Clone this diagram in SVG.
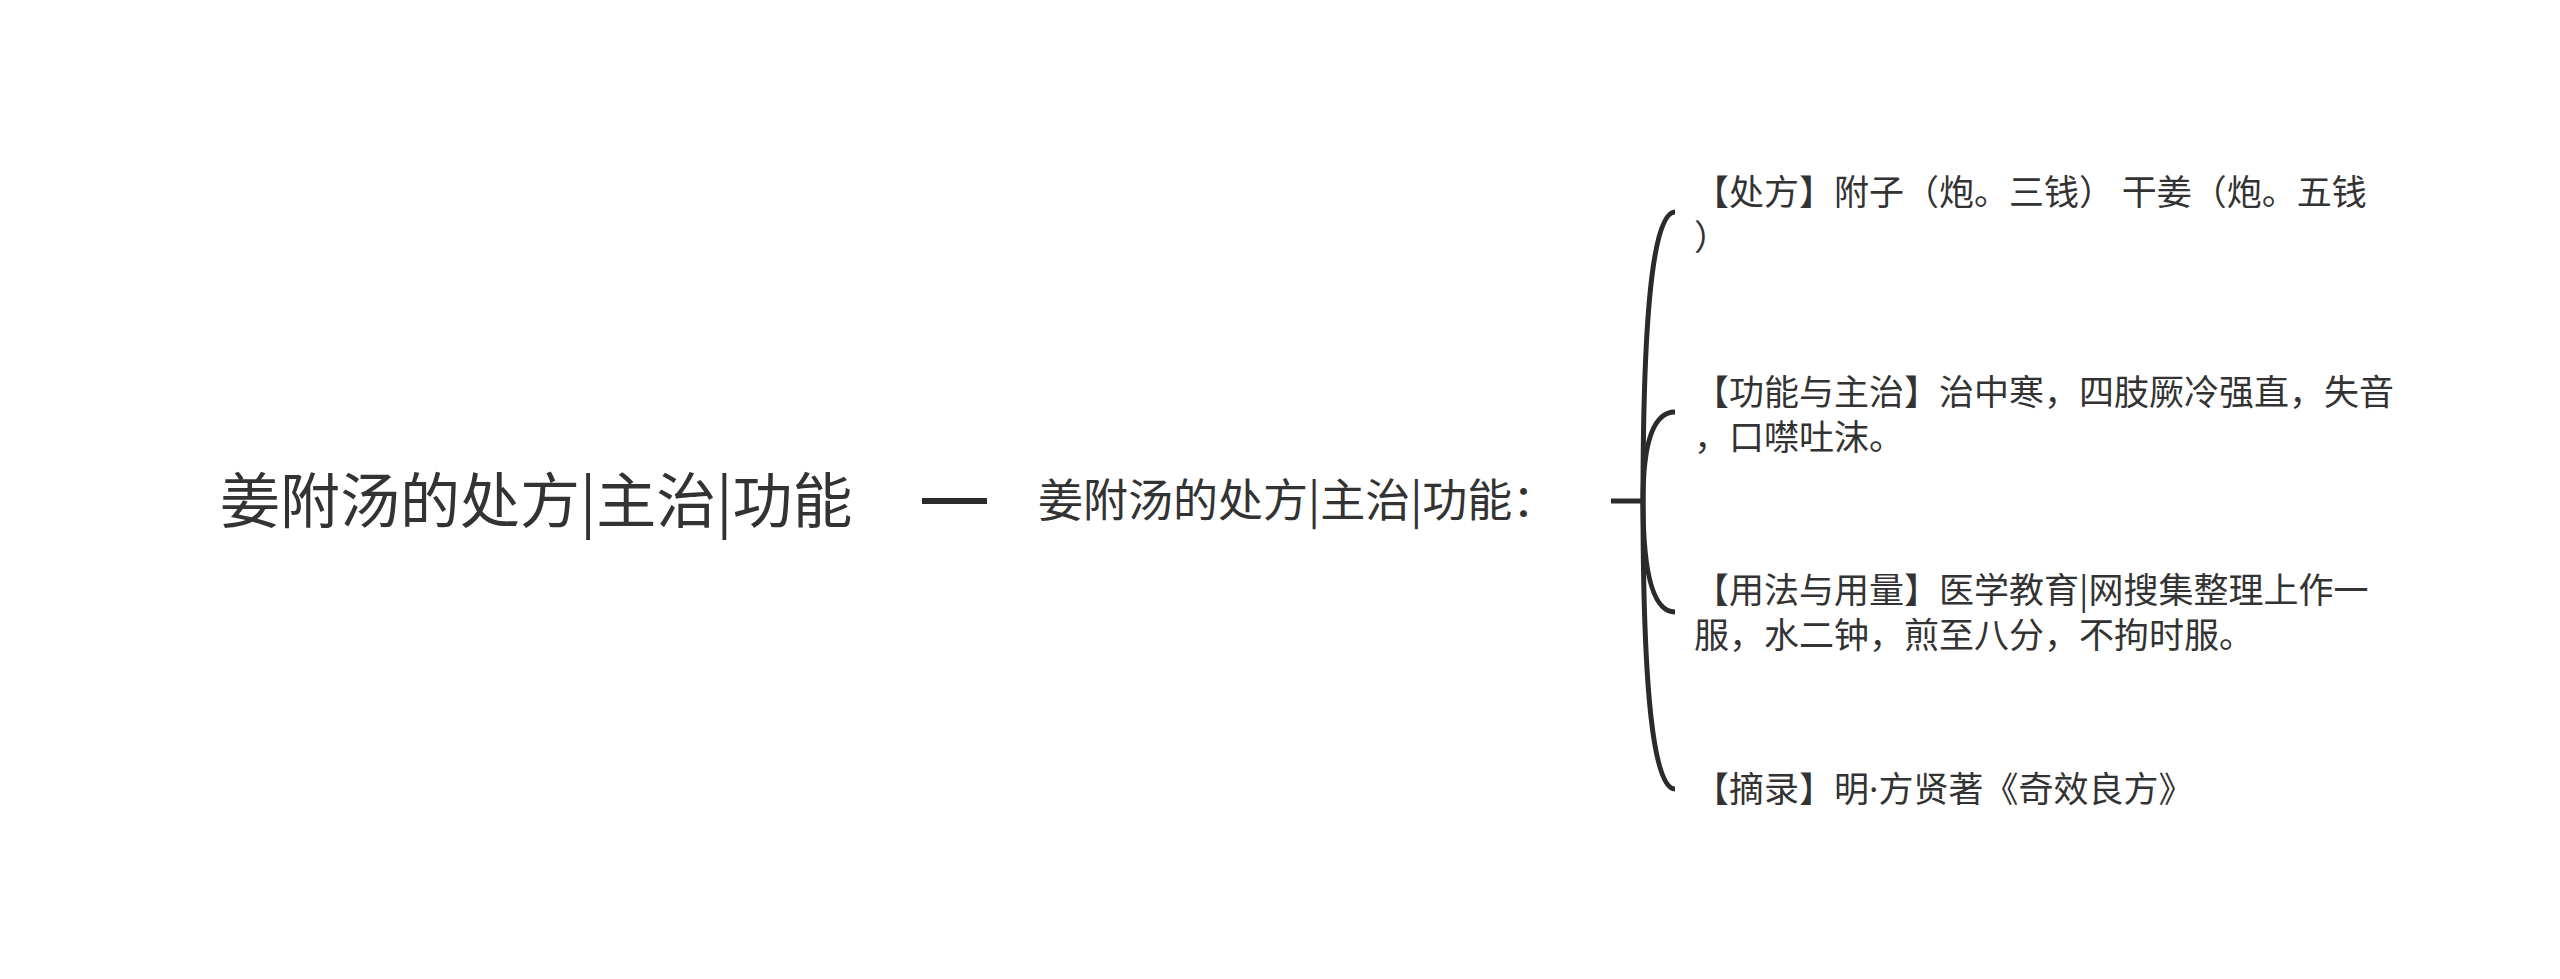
<svg xmlns="http://www.w3.org/2000/svg" width="2560" height="979" viewBox="0 0 2560 979">
<style>
text{font-family:"Noto Sans CJK SC","Noto Sans",sans-serif;fill:#333333}
.root{font-size:60px}
.sub{font-size:45px}
.leaf{font-size:35px}
.dot{font-family:"Noto Sans","Liberation Sans",sans-serif}
.conn{fill:none;stroke:#2b2b2b;stroke-width:5;stroke-linecap:butt}
</style>
<rect width="2560" height="979" fill="#ffffff"/>
<g id="connectors">
<line class="conn" x1="922" y1="501" x2="987" y2="501" style="stroke-width:6"/>
<line class="conn" x1="1611" y1="501" x2="1643" y2="501"/>
<path class="conn" d="M1643 501 Q1643 212 1675 212"/>
<path class="conn" d="M1643 501 Q1643 412 1675 412"/>
<path class="conn" d="M1643 501 Q1643 612 1675 612"/>
<path class="conn" d="M1643 501 Q1643 789 1675 789"/>
</g>
<g id="root"><text class="root" x="220" y="523">姜附汤的处方|主治|功能</text></g>
<g id="topic"><text class="sub" x="1038" y="517">姜附汤的处方|主治|功能：</text></g>
<g id="n1"><text class="leaf" x="1694"><tspan x="1694" y="205">【处方】附子（炮。三钱） 干姜（炮。五钱</tspan><tspan x="1694" y="250">）</tspan></text></g>
<g id="n2"><text class="leaf" x="1694"><tspan x="1694" y="405">【功能与主治】治中寒，四肢厥冷强直，失音</tspan><tspan x="1694" y="450">，口噤吐沫。</tspan></text></g>
<g id="n3"><text class="leaf" x="1694"><tspan x="1694" y="603">【用法与用量】医学教育|网搜集整理上作一</tspan><tspan x="1694" y="648">服，水二钟，煎至八分，不拘时服。</tspan></text></g>
<g id="n4"><text class="leaf" x="1694" y="802">【摘录】明<tspan class="dot">·</tspan>方贤著《奇效良方》</text></g>
</svg>
